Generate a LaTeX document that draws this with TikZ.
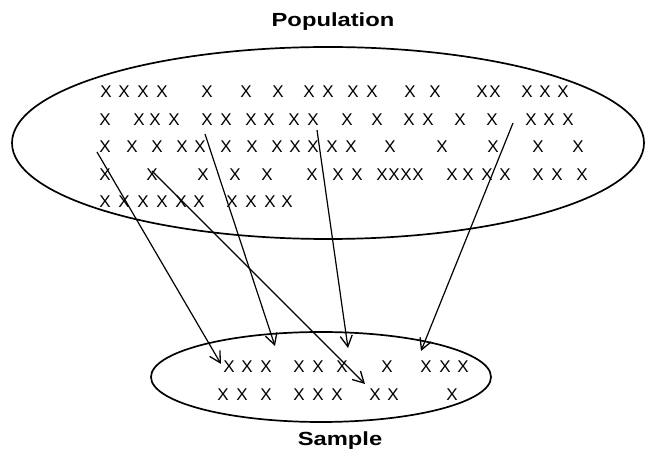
\documentclass[tikz,border=0pt]{standalone}
\usepackage{fontspec}
\setsansfont{Liberation Sans}
\usetikzlibrary{arrows.meta}
\begin{document}
\begin{tikzpicture}[x=1pt, y=-1pt, font=\sffamily,
	cross/.style={inner sep=0pt, font=\sffamily\fontsize{17}{17}\selectfont},
	setname/.style={inner sep=0pt, font=\sffamily\bfseries\fontsize{19}{19}\selectfont},
	pick/.style={line width=1.2pt, -{Straight Barb[length=11pt,width=12pt,line width=1.3pt]}}]
	\useasboundingbox (0,0) rectangle (646,454);
	% the two sets
	\draw[line width=1.7pt] (328,143) ellipse [x radius=316, y radius=96];
	\draw[line width=1.7pt] (321,377) ellipse [x radius=170, y radius=45];
	\node[setname] (pop) at (333,22) {\scalebox{1.25}[1]{Population}};
	\node[setname] (smp) at (340,441) {\scalebox{1.25}[1]{Sample}};
	% members of the population
	\foreach \x [count=\n] in {106,124,143,162,207,246,278,309,328,353,372,410,435,482,495,527,545,563}
		\node[cross] (a\n) at (\x,92) {X};
	\foreach \x [count=\n] in {105,139,155,174,207,226,251,269,294,313,347,377,409,428,460,492,531,549,568}
		\node[cross] (b\n) at (\x,120) {X};
	\foreach \x [count=\n] in {105,132,157,182,200,226,252,277,295,313,332,351,390,442,493,538,578}
		\node[cross] (c\n) at (\x,147) {X};
	\foreach \x [count=\n] in {105,152,203,235,267,312,338,357,382,394,406,418,452,468,487,505,538,557,582}
		\node[cross] (d\n) at (\x,175) {X};
	\foreach \x [count=\n] in {105,124,143,162,181,199,232,251,270,287}
		\node[cross] (e\n) at (\x,202) {X};
	% members of the sample
	\foreach \x [count=\n] in {229,247,266,299,318,342,387,426,445,463}
		\node[cross] (f\n) at (\x,367) {X};
	\foreach \x [count=\n] in {223,242,266,299,318,337,375,393,452}
		\node[cross] (g\n) at (\x,395) {X};
	% drawn at random
	\coordinate (p1) at (97,152);  \coordinate (s1) at (221,364);
	\coordinate (p2) at (152,171); \coordinate (s2) at (365,384);
	\coordinate (p3) at (205,134); \coordinate (s3) at (275,346);
	\coordinate (p4) at (317,130); \coordinate (s4) at (348,348);
	\coordinate (p5) at (513,123); \coordinate (s5) at (421,351);
	\foreach \i in {1,...,5} \draw[pick] (p\i) -- (s\i);
\end{tikzpicture}
\end{document}
